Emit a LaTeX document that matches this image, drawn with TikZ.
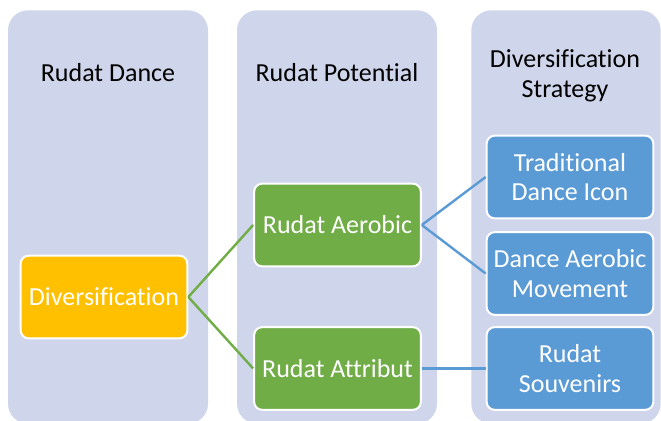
\documentclass[tikz,border=0pt]{standalone}
\usepackage{fontspec}
\setmainfont{Carlito}[Ligatures={NoCommon}]
\usepackage{tikz}
\usetikzlibrary{arrows.meta,positioning}
\definecolor{halvany}{HTML}{CFD5EA}
\definecolor{narancs}{HTML}{FFC000}
\definecolor{zold}{HTML}{70AD47}
\definecolor{kek}{HTML}{5B9BD5}
\tikzset{
  oszlop/.style={fill=halvany,rounded corners=15pt,minimum width=150pt,minimum height=310pt,inner sep=0pt},
  fej/.style={align=center,font=\fontsize{19.5}{22.5}\selectfont,inner sep=0pt},
  doboz/.style={draw=white,line width=1.5pt,rounded corners=6pt,text=white,align=center,
                minimum width=125pt,minimum height=62pt,inner sep=2pt,
                font=\fontsize{19.5}{22}\selectfont},
  gyoker/.style={doboz,fill=narancs},
  kozep/.style={doboz,fill=zold},
  level/.style={doboz,fill=kek},
  zvonal/.style={draw=zold,line width=1.8pt},
  kvonal/.style={draw=kek,line width=1.8pt},
}
\begin{document}
\begin{tikzpicture}[x=0.75pt,y=-0.75pt]
  \useasboundingbox (0,0) rectangle (661,421);
  % hatter oszlopok
  \node[oszlop] (O1) at (108,217) {};
  \node[oszlop] (O2) at (337,217) {};
  \node[oszlop,minimum width=142pt] (O3) at (566,217) {};
  \node[fej] (H1) at (108,73) {Rudat Dance};
  \node[fej] (H2) at (337,73) {Rudat Potential};
  \node[fej] (H3) at (565,76) {Diversification\\Strategy};
  % dobozok
  \node[gyoker] (D) at (104,297) {Diversification};
  \node[kozep] (A1) at (337.5,225) {Rudat Aerobic};
  \node[kozep] (A2) at (337.5,368.5) {Rudat Attribut};
  \node[level] (S1) at (570,177) {Traditional\\Dance Icon};
  \node[level] (S2) at (570,273.5) {Dance Aerobic\\Movement};
  \node[level] (S3) at (570,368.5) {Rudat\\Souvenirs};
  \draw[zvonal] (D.east) -- (A1.west); \draw[zvonal] (D.east) -- (A2.west);
  \draw[kvonal] (A1.east) -- (S1.west); \draw[kvonal] (A1.east) -- (S2.west);
  \draw[kvonal] (A2.east) -- (S3.west);
\end{tikzpicture}
\end{document}
